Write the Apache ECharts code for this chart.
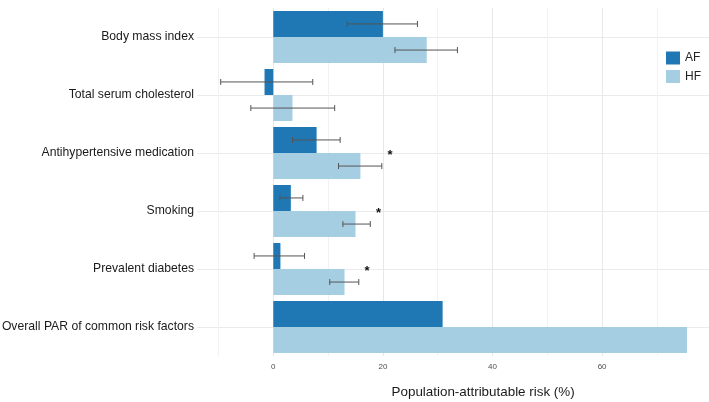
<!DOCTYPE html>
<html>
<head>
<meta charset="utf-8">
<script src="https://cdn.jsdelivr.net/npm/echarts@6/dist/echarts.min.js"></script>
<style>html,body{margin:0;padding:0;background:#fff}#c{width:709px;height:402px}</style>
</head>
<body>
<div id="c"></div>
<script>
const categories = ['Body mass index','Total serum cholesterol','Antihypertensive medication','Smoking','Prevalent diabetes','Overall PAR of common risk factors'];
const afValues = [20.0, -1.6, 7.9, 3.2, 1.3, 30.9];
const afLow    = [13.5, -9.6, 3.5, 1.2, -3.5, null];
const afHigh   = [26.3,  7.2, 12.2, 5.4, 5.7, null];
const hfValues = [28.0, 3.5, 15.9, 15.0, 13.0, 75.5];
const hfLow    = [22.2, -4.1, 11.9, 12.7, 10.3, null];
const hfHigh   = [33.6, 11.2, 19.8, 17.7, 15.6, null];
const significant = [false, false, true, true, true, false];
const xTickLabels = [0, 20, 40, 60];
const seriesNames = ['AF', 'HF'];
const colors = ['#1F78B4', '#A6CEE3'];

const font = '"Liberation Sans", Arial, sans-serif';
const chart = echarts.init(document.getElementById('c'), null, {renderer: 'canvas'});

const errData = [];
categories.forEach((c, i) => {
  if (afLow[i] != null) errData.push([afLow[i], afHigh[i], i, 0]);
  if (hfLow[i] != null) errData.push([hfLow[i], hfHigh[i], i, 1]);
});
const starData = [];
categories.forEach((c, i) => { if (significant[i]) starData.push([hfHigh[i] + 1.5, i]); });

function renderErr(params, api) {
  const lo = api.value(0), hi = api.value(1), cat = api.value(2), grp = api.value(3);
  const band = api.size([0, 1])[1];
  const bw = band * 0.9 / 2;
  const off = grp === 0 ? -bw / 2 : bw / 2;
  const p1 = api.coord([lo, cat]);
  const p2 = api.coord([hi, cat]);
  const y = p1[1] + off;
  const cap = 3;
  const st = {stroke: '#555555', lineWidth: 1};
  return {type: 'group', children: [
    {type: 'line', shape: {x1: p1[0], y1: y, x2: p2[0], y2: y}, style: st},
    {type: 'line', shape: {x1: p1[0], y1: y - cap, x2: p1[0], y2: y + cap}, style: st},
    {type: 'line', shape: {x1: p2[0], y1: y - cap, x2: p2[0], y2: y + cap}, style: st}
  ]};
}
function renderStar(params, api) {
  const p = api.coord([api.value(0), api.value(1)]);
  return {type: 'text', x: p[0], y: p[1] + 2.5, style: {text: '*', font: 'bold 13px ' + font, fill: '#111', align: 'center', verticalAlign: 'middle'}};
}

chart.setOption({
  animation: false,
  backgroundColor: '#fff',
  grid: [
    {left: 197, right: 0, top: 37, height: 290, outerBoundsMode: 'none', containLabel: false},
    {left: 218.5, width: 493.2, top: 8, height: 348, outerBoundsMode: 'none', containLabel: false}
  ],
  legend: {
    data: seriesNames, orient: 'vertical', left: 661, top: 46.5,
    itemWidth: 14, itemHeight: 13, itemGap: 5.5, icon: 'rect',
    textStyle: {fontFamily: font, fontSize: 12, color: '#222'}
  },
  xAxis: [
    {gridIndex: 0, type: 'value', show: false, min: 0, max: 1},
    {gridIndex: 1, type: 'value', min: -10, max: 80, interval: 10,
     axisLine: {show: false}, axisTick: {show: false},
     axisLabel: {fontFamily: font, fontSize: 8, color: '#4d4d4d', margin: 7,
       formatter: v => xTickLabels.indexOf(v) >= 0 ? String(v) : ''},
     splitLine: {show: true, lineStyle: {color: ['#f2f2f2', '#e8e8e8'], width: 1}},
     name: 'Population-attributable risk (%)', nameLocation: 'middle', nameGap: 30,
     nameTextStyle: {fontFamily: font, fontSize: 13.4, color: '#1a1a1a', padding: [0, 0, 0, 36]}
    }
  ],
  yAxis: [
    {gridIndex: 0, type: 'category', data: categories, inverse: true, boundaryGap: false,
     axisLine: {show: false}, axisTick: {show: false}, axisLabel: {show: false},
     splitLine: {show: true, lineStyle: {color: '#ebebeb', width: 1}}},
    {gridIndex: 1, type: 'category', data: categories, inverse: true,
     axisLine: {show: false}, axisTick: {show: false}, splitLine: {show: false},
     axisLabel: {fontFamily: font, fontSize: 12.2, color: '#1a1a1a', margin: 24.5, padding: [2, 0, 0, 0]}}
  ],
  series: [
    {name: 'AF', type: 'bar', xAxisIndex: 1, yAxisIndex: 1, data: afValues, barWidth: 26, barGap: '0%', itemStyle: {color: colors[0]}},
    {name: 'HF', type: 'bar', xAxisIndex: 1, yAxisIndex: 1, data: hfValues, barWidth: 26, barGap: '0%', itemStyle: {color: colors[1]}},
    {type: 'custom', xAxisIndex: 1, yAxisIndex: 1, data: errData, renderItem: renderErr, z: 5, silent: true},
    {type: 'custom', xAxisIndex: 1, yAxisIndex: 1, data: starData, renderItem: renderStar, z: 5, silent: true}
  ]
});
</script>
</body>
</html>
